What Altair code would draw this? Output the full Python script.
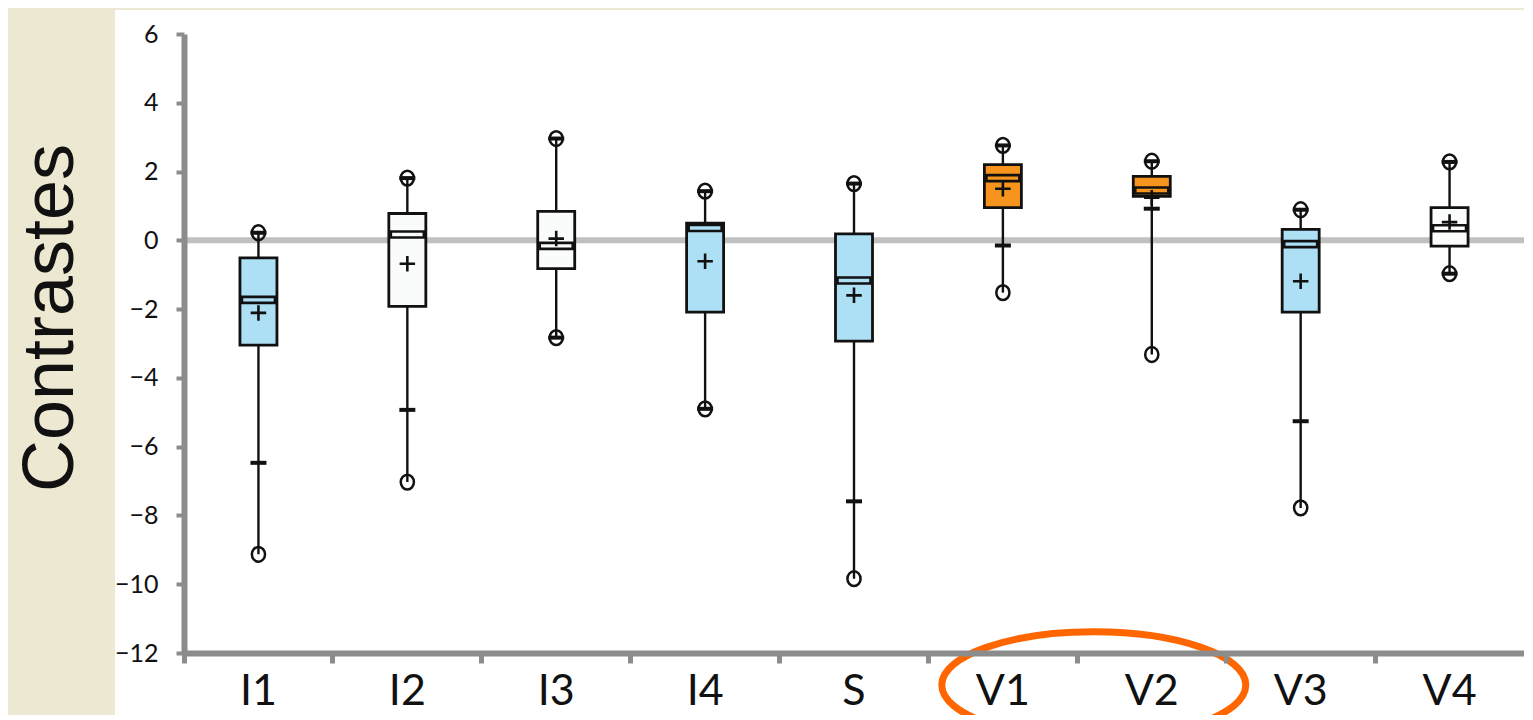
import altair as alt
import pandas as pd

# ---- data ----
cats = ["I1", "I2", "I3", "I4", "S", "V1", "V2", "V3", "V4"]
groups = ["neg", "ns", "ns", "neg", "neg", "pos", "pos", "neg", "ns"]
mins = [-9.13, -7.03, -2.83, -4.90, -9.84, -1.52, -3.32, -7.78, -0.97]
low_marks = [-6.47, -4.93, -2.83, -4.90, -7.59, -0.15, 0.92, -5.26, -0.97]
q1s = [-3.05, -1.92, -0.82, -2.09, -2.93, 0.95, 1.28, -2.09, -0.17]
medians = [-1.73, 0.17, -0.16, 0.36, -1.17, 1.81, 1.45, -0.11, 0.35]
q3s = [-0.51, 0.78, 0.84, 0.50, 0.19, 2.20, 1.86, 0.32, 0.95]
high_marks = [0.22, 1.81, 2.96, 1.43, 1.65, 2.76, 2.30, 0.89, 2.28]
maxs = [0.22, 1.81, 2.96, 1.43, 1.65, 2.76, 2.30, 0.89, 2.28]
means = [-2.11, -0.68, 0.05, -0.61, -1.60, 1.50, 1.24, -1.19, 0.53]
y_ticks = [-12, -10, -8, -6, -4, -2, 0, 2, 4, 6]
y_title = "Contrastes"
highlight = ["V2"]

df = pd.DataFrame(dict(cat=cats, grp=groups, vmin=mins, lo=low_marks, q1=q1s,
                       med=medians, q3=q3s, hi=high_marks, vmax=maxs, mean=means))

W, H = 1340, 619
INK = "#111111"
AXC = "#8c8c8c"

xscale = alt.Scale(type="band", domain=cats, paddingInner=0, paddingOuter=0)
yscale = alt.Scale(domain=[-12, 6], nice=False, zero=False)
colorscale = alt.Scale(domain=["neg", "ns", "pos"], range=["#ADDFF5", "#FAFCFC", "#F7941D"])

xaxis = alt.Axis(title=None, bandPosition=0, labelAngle=0,
                 labelFont="Lato", labelFontSize=43, labelColor=INK, labelPadding=7,
                 labelAlign="center",
                 domainColor=AXC, domainWidth=6, tickColor=AXC, tickWidth=5, tickSize=10,
                 grid=False, zindex=1)
yaxis = alt.Axis(title=y_title, values=y_ticks, grid=False, labelFont="Lato",
                 labelFontSize=25, labelColor=INK, labelPadding=18,
                 domainColor=AXC, domainWidth=6, tickColor=AXC, tickWidth=4, tickSize=8,
                 titleFont="Liberation Sans", titleFontSize=72, titleFontWeight="normal",
                 titleColor=INK, titleAngle=270, titleX=-112, titleY=283.5,
                 titleAlign="center", titleBaseline="alphabetic", zindex=1)

X = alt.X("cat:N", scale=xscale, axis=xaxis, sort=cats)


def Y(field):
    return alt.Y(field + ":Q", scale=yscale, axis=yaxis)


base = alt.Chart(df)

one = alt.Data(values=[{"k": 0}])
bg = alt.Chart(one).mark_rect(color="white").encode(
    x=alt.value(-69), x2=alt.value(W + 20), y=alt.value(-24), y2=alt.value(H + 90))

zero = alt.Chart(one).mark_rule(color="#C0C0C0", strokeWidth=6).encode(
    y=alt.datum(0), x=alt.value(0), x2=alt.value(W + 20))

whisk = base.mark_rule(color=INK, strokeWidth=2.4).encode(x=X, y=Y("vmin"), y2="vmax:Q")

boxes = base.mark_bar(size=37, stroke=INK, strokeWidth=2.8).encode(
    x=X, y=Y("q1"), y2="q3:Q", color=alt.Color("grp:N", scale=colorscale, legend=None))

med = base.mark_tick(size=33, thickness=6, stroke=INK, strokeWidth=2.6,
                     orient="horizontal", opacity=1).encode(
    x=X, y=Y("med"), color=alt.Color("grp:N", scale=colorscale, legend=None))

dash_lo = base.mark_tick(size=16, thickness=4, color=INK, orient="horizontal",
                         opacity=1).encode(x=X, y=Y("lo"))
dash_hi = base.mark_tick(size=16, thickness=4, color=INK, orient="horizontal",
                         opacity=1).encode(x=X, y=Y("hi"))

ell_small = "M -0.89 0 A 0.89 1 0 1 1 0.89 0 A 0.89 1 0 1 1 -0.89 0 Z"
circ_lo = base.mark_point(shape=ell_small, size=219, filled=False, stroke=INK,
                          strokeWidth=2.5, opacity=1).encode(x=X, y=Y("vmin"))
circ_hi = base.mark_point(shape=ell_small, size=219, filled=False, stroke=INK,
                          strokeWidth=2.5, opacity=1).encode(x=X, y=Y("vmax"))

plus = "M -1 0 L 1 0 M 0 -1 L 0 1"
mean_pt = base.mark_point(shape=plus, size=240, filled=False, stroke=INK,
                          strokeWidth=2.6, opacity=1).encode(x=X, y=Y("mean"))

big_ell = "M -1 0 A 1 0.35 0 1 1 1 0 A 1 0.35 0 1 1 -1 0 Z"
ring = alt.Chart(pd.DataFrame({"cat": highlight})).mark_point(
    shape=big_ell, size=304 ** 2, filled=False, stroke="#FF6600", strokeWidth=7,
    opacity=1, xOffset=-58).encode(x=X, y=alt.value(H + 32))

chart = alt.layer(bg, zero, whisk, boxes, med, dash_lo, dash_hi, circ_lo, circ_hi,
                  mean_pt, ring).properties(
    width=W, height=H,
    autosize=alt.AutoSizeParams(type="none"),
    padding={"left": 176, "top": 26, "right": 0, "bottom": 62},
    background="#ECE8D2",
).configure_view(stroke=None)

chart.save("out.html", embed_options={"renderer": "svg", "actions": False})
